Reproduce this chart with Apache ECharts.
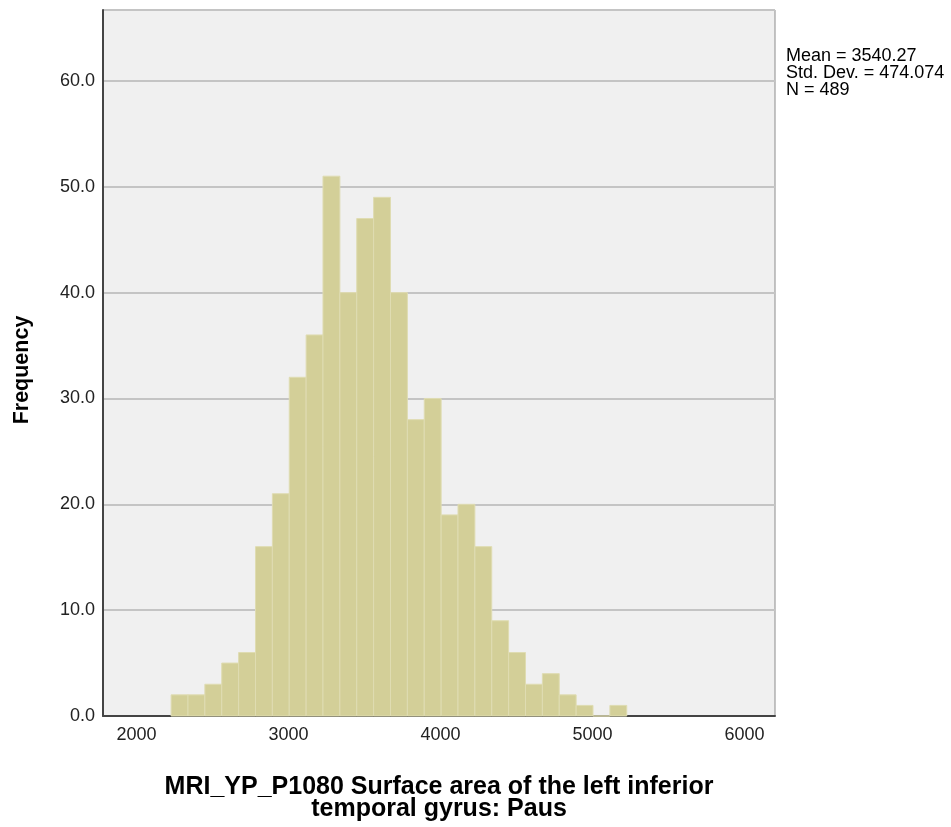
<!DOCTYPE html>
<html>
<head>
<meta charset="utf-8">
<script src="https://cdn.jsdelivr.net/npm/echarts@6/dist/echarts.min.js"></script>
<style>
  html, body { margin: 0; padding: 0; background: #fff; }
  #chart { width: 951px; height: 827px; }
</style>
</head>
<body>
<div id="chart"></div>
<script>
// histogram bins
var binStart = 2228;
var binWidth = 111;
var counts = [2, 2, 3, 5, 6, 16, 21, 32, 36, 51, 40, 47, 49, 40, 28, 30, 19, 20, 16, 9, 6, 3, 4, 2, 1, 0, 1];
var xTicks = [2000, 3000, 4000, 5000, 6000];
var yTicks = [0, 10, 20, 30, 40, 50, 60];
var statsLines = ['Mean = 3540.27', 'Std. Dev. = 474.074', 'N = 489'];

var data = counts.map(function (c, i) {
  return [binStart + i * binWidth, binStart + (i + 1) * binWidth, c];
});

var chart = echarts.init(document.getElementById('chart'));

var font = 'Liberation Sans, Arial, sans-serif';

option = {
  backgroundColor: '#ffffff',
  animation: false,
  grid: {
    left: 103, right: 176, top: 10, bottom: 111,
    show: true,
    backgroundColor: '#f0f0f0',
    borderColor: '#8c8c8c',
    borderWidth: 1
  },
  xAxis: {
    type: 'value',
    min: 1780,
    max: 6200,
    name: 'MRI_YP_P1080 Surface area of the left inferior\ntemporal gyrus: Paus',
    nameLocation: 'middle',
    nameGap: 60,
    nameTextStyle: { fontFamily: font, fontSize: 25, fontWeight: 'bold', color: '#000', lineHeight: 22 },
    axisLine: { show: true, onZero: false, lineStyle: { color: '#444', width: 2 } },
    axisTick: { show: false },
    splitLine: { show: false },
    axisLabel: {
      customValues: xTicks,
      formatter: function (v) { return String(v); },
      fontFamily: font, fontSize: 18, color: '#222', margin: 10
    }
  },
  yAxis: {
    type: 'value',
    min: 0,
    max: 66.7,
    axisLine: { show: true, lineStyle: { color: '#444', width: 2 } },
    axisTick: { show: false },
    splitLine: { show: true, lineStyle: { color: '#c4c4c4', width: 2 } },
    axisLabel: {
      customValues: yTicks,
      formatter: function (v) { return v.toFixed(1); },
      fontFamily: font, fontSize: 18, color: '#222', margin: 8
    }
  },
  series: [{
    type: 'custom',
    data: data,
    encode: { x: [0, 1], y: 2 },
    renderItem: function (params, api) {
      var p0 = api.coord([api.value(0), 0]);
      var p1 = api.coord([api.value(1), api.value(2)]);
      return {
        type: 'rect',
        shape: { x: p0[0], y: p1[1], width: p1[0] - p0[0], height: p0[1] - p1[1] },
        style: { fill: '#d3cf98', stroke: '#dfdcb2', lineWidth: 1 }
      };
    }
  }],
  graphic: [{
    type: 'text',
    left: 786,
    top: 47,
    style: {
      text: statsLines.join('\n'),
      fontFamily: font,
      fontSize: 18,
      lineHeight: 17,
      fill: '#000'
    }
  }, {
    type: 'text',
    x: 22,
    y: 370,
    rotation: Math.PI / 2,
    style: {
      text: 'Frequency',
      fontFamily: font,
      fontSize: 21.5,
      fontWeight: 'bold',
      fill: '#000',
      align: 'center',
      verticalAlign: 'middle'
    }
  }]
};

chart.setOption(option);
</script>
</body>
</html>
